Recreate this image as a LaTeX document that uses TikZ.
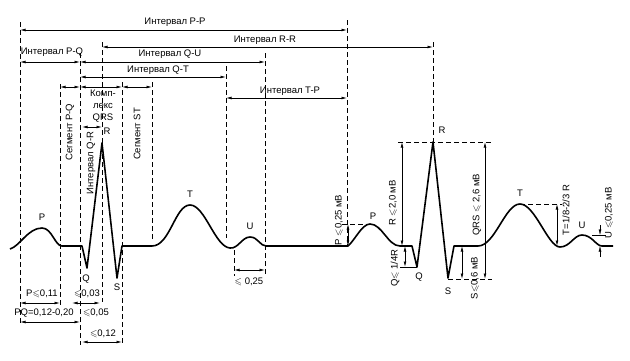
\documentclass[tikz,border=0pt]{standalone}
\usepackage{amssymb}
\usepackage{fontspec}
\setmainfont{Liberation Sans}
\usetikzlibrary{arrows.meta}

\begin{document}
\begin{tikzpicture}[x=1pt,y=-1pt,
    >={Latex[length=5.5pt,width=2.8pt]},
    ecg/.style={line width=1.6pt, line join=round},
    guide/.style={dash pattern=on 5pt off 3pt, line width=0.65pt},
    dim/.style={<->, line width=0.7pt},
    lbl/.style={font=\fontsize{9.5}{12}\selectfont, inner sep=1pt},
    vlbl/.style={lbl, rotate=90}]
    \useasboundingbox (0,0) rectangle (630,360);

    % Guide lines
    \draw[guide] (20,22) -- (20,323);
    \draw[guide] (60,84) -- (60,305);
    \draw[guide] (80,53) -- (80,345);
    \draw[guide] (102,42) -- (102,302);
    \draw[guide] (122,82) -- (122,345);
    \draw[guide] (152,82) -- (152,240);
    \draw[guide] (226,66) -- (226,238);
    \draw[guide] (265,53) -- (265,276);
    \draw[guide] (234,250) -- (234,276);
    \draw[guide] (347,20) -- (347,246);
    \draw[guide] (433,42) -- (433,142);

    % Intervals on top
    \draw[dim] (20,30) -- (347,30);
    \node[lbl] (pp) at (175,22) {Интервал P-P};
    \draw[dim] (102,47) -- (433,47);
    \node[lbl] (rr) at (265,40) {Интервал R-R};
    \draw[dim] (20,62) -- (80,62);
    \node[lbl] (pq) at (52,52) {Интервал P-Q};
    \draw[dim] (80,62) -- (265,62);
    \node[lbl] (qu) at (170,54) {Интервал Q-U};
    \draw[dim] (80,77) -- (226,77);
    \node[lbl] (qt) at (158,70) {Интервал Q-T};
    \draw[dim] (226,98) -- (347,98);
    \node[lbl] (tp) at (290,91) {Интервал T-P};

    % Segments and complex
    \draw[dim] (60,87) -- (80,87);
    \draw[dim] (80,87) -- (122,87);
    \draw[dim] (122,87) -- (152,87);
    \draw[dim] (82,127) -- (102,127);
    \node[lbl, align=center] (qrs) at (103,106) {Комп-\\лекс\\QRS};
    \node[vlbl] (spq) at (70,132) {Сегмент P-Q};
    \node[vlbl] (iqr) at (91,163) {Интервал Q-R};
    \node[vlbl] (sst) at (137,134) {Сегмент ST};

    % ECG trace
    \draw[ecg] (10,249) .. controls (20,246) and (28,228) .. (42,228)
        .. controls (52,228) and (55,246) .. (62,246) -- (82,246)
        -- (87,268) -- (102,143) -- (117,278) -- (122,246) -- (152,246)
        .. controls (170,246) and (175,205) .. (190,205)
        .. controls (205,205) and (215,247) .. (230,248)
        .. controls (238,249) and (242,237) .. (250,237)
        .. controls (258,237) and (260,246) .. (266,246) -- (348,246)
        .. controls (355,240) and (362,224) .. (370,224)
        .. controls (382,224) and (388,246) .. (400,246) -- (412,246)
        -- (417,267) -- (433,142) -- (448,278) -- (454,246) -- (478,246)
        .. controls (495,246) and (505,204) .. (520,204)
        .. controls (535,204) and (548,247) .. (560,247)
        .. controls (570,247) and (574,235) .. (582,235)
        .. controls (592,235) and (596,246) .. (602,246) -- (613,246);

    % Wave names
    \node[lbl] (pA) at (42,217) {P};
    \node[lbl] (qA) at (86,279) {Q};
    \node[lbl] (rA) at (107,131) {R};
    \node[lbl] (sA) at (117,287) {S};
    \node[lbl] (tA) at (190,194) {T};
    \node[lbl] (uA) at (250,226) {U};
    \node[lbl] (pB) at (373,216) {P};
    \node[lbl] (qB) at (419,277) {Q};
    \node[lbl] (rB) at (442,130) {R};
    \node[lbl] (sB) at (448,291) {S};
    \node[lbl] (tB) at (520,193) {T};
    \node[lbl] (uB) at (582,225) {U};

    % Durations below
    \draw[dim] (20,303) -- (60,303);
    \node[lbl] (dp) at (42,294) {P$\leqslant$0,11};
    \draw[dim] (72,303) -- (100,303);
    \node[lbl] (dq) at (87,294) {$\leqslant$0,03};
    \draw[dim] (20,322) -- (80,322);
    \node[lbl] (dpq) at (44,313) {PQ=0,12-0,20};
    \node[lbl] (dqr) at (96,313) {$\leqslant$0,05};
    \draw[dim] (82,342) -- (122,342);
    \node[lbl] (dqrs) at (103,334) {$\leqslant$0,12};
    \draw[dim] (234,270) -- (265,270);
    \node[lbl] (du) at (249,282) {$\leqslant$ 0,25};

    % Amplitudes, second beat
    \draw[guide] (342,224) -- (372,224);
    \draw[dim] (348,224) -- (348,246);
    \node[vlbl] (ap) at (339,220) {P $\leqslant$0,25 мВ};
    \draw[guide] (398,142) -- (492,142);
    \draw[dim] (402,142) -- (402,246);
    \node[vlbl] (ar) at (393,203) {R $\leqslant$2,0 мВ};
    \draw (400,267) -- (417,267);
    \draw[dim] (405,246) -- (405,267);
    \node[vlbl] (aq) at (395,268) {Q$\leqslant$ 1/4R};
    \draw[guide] (448,279) -- (492,279);
    \draw[dim] (462,246) -- (462,279);
    \node[vlbl] (as) at (475,278) {S$\leqslant$0,6 мВ};
    \draw[dim] (485,142) -- (485,279);
    \node[vlbl] (aqrs) at (477,205) {QRS $\leqslant$ 2,6 мВ};
    \draw[guide] (520,204) -- (562,204);
    \draw[dim] (557,204) -- (557,246);
    \node[vlbl] (at) at (566,210) {T=1/8-2/3 R};
    \draw (592,235) -- (606,235);
    \draw[->] (600,225) -- (600,235);
    \draw[->] (600,257) -- (600,246);
    \node[vlbl] (au) at (609,213) {U $\leqslant$0,25 мВ};
\end{tikzpicture}
\end{document}
